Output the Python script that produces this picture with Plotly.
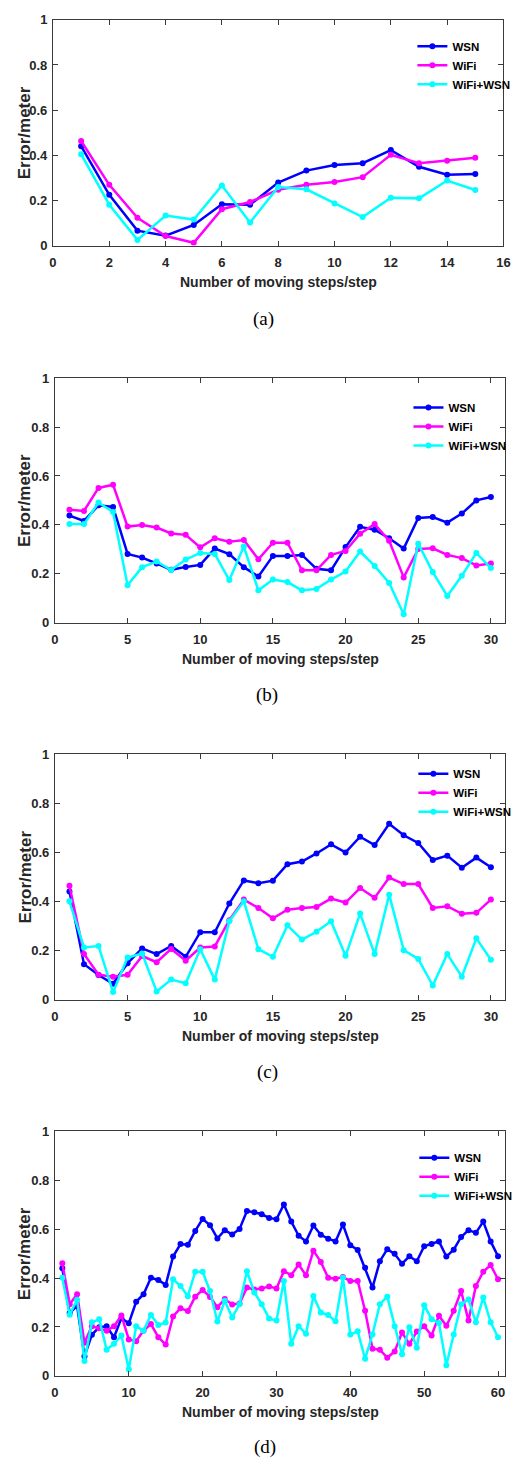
import plotly.graph_objects as go

W, H = 532, 1466

# ---------------- data ----------------
series_names = ["WSN", "WiFi", "WiFi+WSN"]
series_colors = ["#0000ff", "#ff00ff", "#00ffff"]
panel_labels = ["(a)", "(b)", "(c)", "(d)"]
x_title = "Number of moving steps/step"
y_title = "Error/meter"

a_wsn = [0.44, 0.225, 0.066, 0.044, 0.091, 0.183, 0.181, 0.279, 0.332, 0.357, 0.365, 0.423, 0.349, 0.314, 0.317]
a_wifi = [0.463, 0.269, 0.123, 0.042, 0.012, 0.161, 0.193, 0.247, 0.269, 0.282, 0.303, 0.402, 0.365, 0.376, 0.389]
a_fused = [0.405, 0.181, 0.025, 0.133, 0.115, 0.266, 0.102, 0.259, 0.249, 0.186, 0.126, 0.212, 0.209, 0.288, 0.246]

b_wsn = [0.438, 0.416, 0.48, 0.473, 0.281, 0.266, 0.242, 0.216, 0.228, 0.236, 0.303, 0.28, 0.227, 0.189, 0.273,
         0.273, 0.277, 0.22, 0.214, 0.309, 0.392, 0.38, 0.345, 0.303, 0.428, 0.432, 0.409, 0.446, 0.5, 0.514]
b_wifi = [0.462, 0.457, 0.551, 0.564, 0.393, 0.399, 0.389, 0.365, 0.359, 0.308, 0.345, 0.331, 0.338, 0.259, 0.327,
          0.327, 0.214, 0.214, 0.277, 0.293, 0.364, 0.403, 0.335, 0.185, 0.301, 0.304, 0.277, 0.264, 0.234, 0.242]
b_fused = [0.403, 0.403, 0.491, 0.453, 0.153, 0.227, 0.25, 0.215, 0.258, 0.285, 0.281, 0.174, 0.311, 0.132, 0.176,
           0.166, 0.132, 0.138, 0.176, 0.209, 0.291, 0.232, 0.162, 0.034, 0.323, 0.207, 0.109, 0.192, 0.285, 0.223]

c_wsn = [0.441, 0.145, 0.101, 0.065, 0.149, 0.209, 0.186, 0.219, 0.175, 0.275, 0.275, 0.392, 0.486, 0.475, 0.485,
         0.552, 0.563, 0.596, 0.633, 0.6, 0.664, 0.63, 0.717, 0.67, 0.639, 0.569, 0.587, 0.538, 0.579, 0.54]
c_wifi = [0.464, 0.186, 0.102, 0.094, 0.102, 0.178, 0.153, 0.207, 0.159, 0.213, 0.217, 0.324, 0.408, 0.374, 0.332,
          0.367, 0.374, 0.378, 0.412, 0.396, 0.455, 0.415, 0.498, 0.471, 0.471, 0.374, 0.381, 0.35, 0.354, 0.408]
c_fused = [0.401, 0.213, 0.219, 0.031, 0.172, 0.188, 0.034, 0.082, 0.067, 0.206, 0.082, 0.32, 0.401, 0.206, 0.175,
           0.303, 0.245, 0.277, 0.32, 0.179, 0.351, 0.186, 0.428, 0.202, 0.166, 0.058, 0.186, 0.094, 0.25, 0.163]

d_wsn = [0.44, 0.257, 0.286, 0.08, 0.168, 0.199, 0.203, 0.158, 0.236, 0.215,
         0.303, 0.334, 0.401, 0.392, 0.372, 0.488, 0.539, 0.536, 0.593, 0.642,
         0.616, 0.562, 0.596, 0.578, 0.601, 0.674, 0.669, 0.661, 0.646, 0.641,
         0.701, 0.631, 0.573, 0.55, 0.615, 0.577, 0.561, 0.55, 0.619, 0.534,
         0.515, 0.442, 0.361, 0.469, 0.518, 0.499, 0.459, 0.489, 0.469, 0.53,
         0.539, 0.55, 0.488, 0.516, 0.568, 0.596, 0.585, 0.631, 0.55, 0.489]
d_wifi = [0.461, 0.293, 0.334, 0.135, 0.203, 0.195, 0.185, 0.203, 0.247, 0.149,
          0.142, 0.185, 0.212, 0.158, 0.128, 0.243, 0.277, 0.265, 0.324, 0.351,
          0.323, 0.281, 0.314, 0.292, 0.296, 0.361, 0.353, 0.357, 0.366, 0.357,
          0.428, 0.412, 0.455, 0.411, 0.512, 0.466, 0.401, 0.397, 0.404, 0.388,
          0.388, 0.266, 0.111, 0.107, 0.074, 0.1, 0.177, 0.131, 0.181, 0.203,
          0.165, 0.246, 0.205, 0.266, 0.347, 0.226, 0.368, 0.426, 0.453, 0.395]
d_fused = [0.401, 0.25, 0.311, 0.061, 0.219, 0.232, 0.107, 0.131, 0.165, 0.027,
           0.203, 0.185, 0.249, 0.208, 0.218, 0.395, 0.368, 0.326, 0.426, 0.426,
           0.347, 0.222, 0.307, 0.239, 0.293, 0.428, 0.341, 0.293, 0.235, 0.226,
           0.388, 0.131, 0.203, 0.172, 0.327, 0.259, 0.249, 0.223, 0.401, 0.169,
           0.182, 0.07, 0.169, 0.293, 0.324, 0.203, 0.088, 0.199, 0.115, 0.289,
           0.232, 0.216, 0.043, 0.169, 0.293, 0.312, 0.219, 0.32, 0.219, 0.158]

y_ticks = [0, 0.2, 0.4, 0.6, 0.8, 1]
y_tick_labels = ["0", "0.2", "0.4", "0.6", "0.8", "1"]
a_x_ticks = [0, 2, 4, 6, 8, 10, 12, 14, 16]
b_x_ticks = [0, 5, 10, 15, 20, 25, 30]
c_x_ticks = [0, 5, 10, 15, 20, 25, 30]
d_x_ticks = [0, 10, 20, 30, 40, 50, 60]

panels = [
    dict(data=[a_wsn, a_wifi, a_fused], xticks=a_x_ticks, xmax=16),
    dict(data=[b_wsn, b_wifi, b_fused], xticks=b_x_ticks, xmax=31),
    dict(data=[c_wsn, c_wifi, c_fused], xticks=c_x_ticks, xmax=31),
    dict(data=[d_wsn, d_wifi, d_fused], xticks=d_x_ticks, xmax=61),
]

# ---------------- layout geometry (pixels) ----------------
boxes = [  # left, right, top, bottom
    (50, 510, 13, 241),
    (52, 512, 375, 622),
    (52, 512, 755, 1003),
    (52, 512, 1136, 1383),
]
label_pos = [(265, 315), (269, 695), (269, 1076), (266, 1455)]
legend_pos = [(417, 25), (413, 390), (418, 760), (419, 1148)]

SANS = "Liberation Sans, Arial, Helvetica, sans-serif"
SERIF = "Liberation Serif, Times New Roman, serif"
TXT = "#262626"

def px(x):
    return x / W

def py(y):
    return 1 - y / H

fig = go.Figure()
annotations = []
layout = dict(
    width=W, height=H,
    margin=dict(l=0, r=0, t=0, b=0),
    paper_bgcolor="white", plot_bgcolor="white",
    showlegend=True,
)

for i, p in enumerate(panels):
    n = i + 1
    xa = "x" if n == 1 else f"x{n}"
    ya = "y" if n == 1 else f"y{n}"
    lg = "legend" if n == 1 else f"legend{n}"
    for name, color, vals in zip(series_names, series_colors, p["data"]):
        steps = list(range(1, len(vals) + 1))
        fig.add_trace(go.Scatter(
            x=steps, y=vals, name=name, mode="lines+markers",
            line=dict(color=color, width=2.5),
            marker=dict(color=color, size=6, symbol="circle"),
            xaxis=xa, yaxis=ya, legend=lg,
        ))
    l, r, t, b = boxes[i]
    axis_common = dict(
        showline=True, linecolor="#3a3a3a", linewidth=1, mirror="ticks",
        ticks="inside", ticklen=5, tickwidth=1, tickcolor="#3a3a3a",
        showgrid=False, zeroline=False,
        tickfont=dict(family=SANS, size=13, color=TXT, weight="bold"),
    )
    layout["xaxis" if n == 1 else f"xaxis{n}"] = dict(
        axis_common, domain=[px(l), px(r)], anchor=ya,
        range=[0, p["xmax"]], tickmode="array", tickvals=p["xticks"],
        ticktext=[str(v) for v in p["xticks"]], ticklabelstandoff=5,
    )
    layout["yaxis" if n == 1 else f"yaxis{n}"] = dict(
        axis_common, domain=[py(b), py(t)], anchor=xa,
        range=[0, 1], tickmode="array", tickvals=y_ticks, ticktext=y_tick_labels,
        ticklabelstandoff=2,
    )
    lx, ly = legend_pos[i]
    layout[lg] = dict(
        x=px(lx), y=py(ly), xanchor="left", yanchor="top",
        bgcolor="rgba(0,0,0,0)", borderwidth=0,
        font=dict(family=SANS, size=11.5, color="black", weight="bold"),
        itemwidth=30, tracegroupgap=0,
    )
    annotations.append(dict(
        text=x_title, x=px((l + r) / 2), y=py(b + 37), xref="paper", yref="paper",
        xanchor="center", yanchor="middle", showarrow=False,
        font=dict(family=SANS, size=14, color=TXT, weight="bold"),
    ))
    annotations.append(dict(
        text=y_title, x=px(21), y=py((t + b) / 2), xref="paper", yref="paper",
        xanchor="center", yanchor="middle", showarrow=False, textangle=-90,
        font=dict(family=SANS, size=17, color=TXT, weight="bold"),
    ))
    cx, cy = label_pos[i]
    annotations.append(dict(
        text=panel_labels[i], x=px(cx), y=py(cy), xref="paper", yref="paper",
        xanchor="center", yanchor="middle", showarrow=False,
        font=dict(family=SERIF, size=19, color="black"),
    ))

layout["annotations"] = annotations
fig.update_layout(**layout)
fig.write_html(
    "out.html",
    config={"displayModeBar": False},
    post_script="document.body.style.margin='0';document.body.style.overflow='hidden';",
)
